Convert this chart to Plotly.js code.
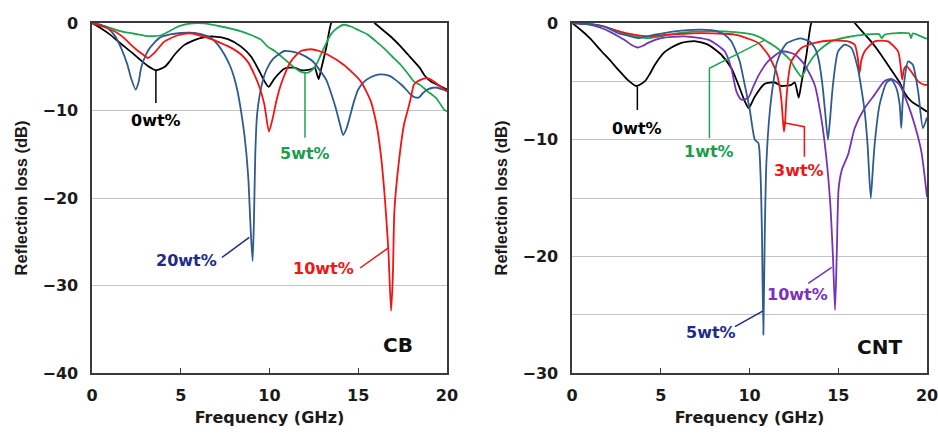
<!DOCTYPE html>
<html>
<head>
<meta charset="utf-8">
<script src="https://cdn.plot.ly/plotly-3.0.1.min.js"></script>
<style>html,body{margin:0;padding:0;background:#fff;}#chart{width:938px;height:438px;}</style>
</head>
<body>
<div id="chart"></div>
<script>
// ---- Shared 0 wt% reference sample (both panels) ----
const f_0 = [0,0.5,1.0,1.65,2.2,2.6,3.15,3.62,4.1,4.37,4.66,5.21,5.6,6.16,6.9,7.66,8.4,8.97,9.35,9.73,9.95,10.3,10.86,11.42,11.8,12.35,12.55,12.77,12.92,13.2,13.48,14,15,15.93,16.86,17.4,17.8,18.46,18.74,19.1,19.5,20];
const rl_0 = [0,-0.6,-1.3,-2.4,-3.3,-4.0,-4.9,-5.4,-5.0,-4.4,-3.6,-2.5,-2.1,-1.7,-1.55,-1.85,-2.7,-3.86,-5.2,-6.7,-7.3,-6.3,-5.2,-5.1,-5.4,-5.3,-5.1,-6.4,-5.2,-2.8,0,1.5,2.0,0,-1.6,-2.7,-3.6,-5.1,-6.0,-6.7,-7.1,-7.6];

// ---- CB panel ----
const f_cb20 = [0,0.5,0.9,1.3,1.65,2.0,2.2,2.46,2.62,2.77,3.0,3.24,3.8,4.4,5.0,5.5,5.78,6.2,6.7,7.1,7.46,7.8,8.02,8.2,8.4,8.6,8.8,8.95,9.05,9.12,9.2,9.3,9.54,9.82,10.2,10.57,10.85,11.2,11.7,12.1,12.45,12.8,13.2,13.5,13.76,14.0,14.15,14.35,14.77,15.0,15.34,15.7,16.1,16.5,16.83,17.1,17.4,17.7,17.96,18.2,18.43,18.65,18.9,19.2,19.46,19.75,20];
const rl_cb20 = [0,-0.2,-0.6,-1.5,-2.9,-4.8,-6.3,-7.6,-6.8,-5.1,-3.8,-2.9,-1.7,-1.3,-1.14,-1.1,-1.14,-1.3,-1.7,-2.5,-3.6,-5.0,-6.3,-7.8,-10.1,-13,-17.5,-24,-27.2,-23,-15,-10.5,-7.3,-5.4,-4.1,-3.5,-3.2,-3.25,-3.5,-3.9,-4.4,-5.3,-6.5,-8.2,-9.9,-11.8,-12.8,-12,-8.9,-7.6,-6.7,-6.2,-5.9,-5.9,-6.1,-6.5,-7.0,-7.6,-8.2,-8.5,-8.5,-8.0,-7.6,-7.4,-7.4,-7.6,-7.8];

const f_cb10 = [0,0.6,1.27,1.8,2.2,2.6,2.87,3.15,3.52,4.09,4.84,5.59,6.52,7.27,7.9,8.4,8.8,9.15,9.45,9.71,9.97,10.18,10.4,10.65,11.2,11.77,12.33,12.8,13.27,14.2,15.15,15.7,15.95,16.1,16.3,16.5,16.7,16.85,16.95,17.04,17.3,17.58,17.8,17.96,18.15,18.5,18.9,19.2,19.46,20];
const rl_cb10 = [0,-0.4,-0.95,-1.7,-2.5,-3.2,-3.6,-4.0,-3.4,-2.1,-1.4,-1.2,-1.7,-2.3,-2.9,-3.6,-4.5,-5.9,-7.4,-9.3,-12.4,-10.9,-8.8,-7.0,-4.4,-3.2,-3.0,-3.2,-3.6,-4.8,-6.7,-8.9,-10.8,-12.4,-15.5,-20,-26,-32.9,-29,-21.4,-15.7,-11.6,-9.9,-8.6,-7.0,-6.5,-6.3,-6.6,-7.0,-7.8];

const f_cb5 = [0,0.8,1.65,2.6,3.15,3.9,4.3,4.65,5.0,5.4,6.3,7.27,8.4,9.0,9.52,9.9,10.3,10.65,11.0,11.4,11.7,11.96,12.25,12.52,12.7,12.9,13.2,13.46,13.8,14.2,14.58,15.0,15.52,16.0,16.46,16.9,17.4,17.8,18.15,18.5,18.9,19.4,19.84,20];
const rl_cb5 = [0,-0.4,-0.95,-1.3,-1.5,-1.4,-1.0,-0.6,-0.3,-0.1,-0.05,-0.4,-0.95,-1.4,-1.9,-2.7,-3.2,-3.8,-4.4,-5.1,-5.5,-5.7,-5.6,-5.1,-4.5,-3.6,-2.3,-1.3,-0.6,-0.2,-0.4,-0.8,-1.3,-2.1,-2.9,-3.8,-4.8,-5.8,-6.7,-7.1,-7.8,-8.6,-9.9,-10.1];

// ---- CNT panel ----
const f_cnt1 = [0,1.0,1.8,2.6,3.1,3.53,4.28,5.03,5.97,7.28,8.6,9.73,10.2,10.67,11.0,11.42,11.98,12.3,12.55,12.75,12.92,13.1,13.3,13.86,14.6,15.55,16.5,17.3,17.45,17.6,18.37,19.0,19.1,19.2,19.87,20];
const rl_cnt1 = [0,-0.1,-0.3,-0.7,-1.0,-1.14,-1.29,-1.14,-0.86,-0.71,-0.71,-0.86,-1.0,-1.29,-1.6,-2.0,-2.7,-3.2,-3.86,-4.3,-4.6,-4.2,-3.57,-2.43,-1.57,-1.2,-1.0,-0.95,-1.3,-1.0,-0.86,-0.9,-1.3,-0.9,-1.29,-1.35];

const f_cnt3 = [0,1.0,1.8,2.6,3.5,4.28,5.4,7.28,9.17,9.92,10.48,11.04,11.5,11.7,11.8,11.88,11.94,12.0,12.07,12.2,12.35,12.92,13.67,14.6,15.55,15.93,16.1,16.2,16.3,16.49,17.05,17.8,18.37,18.5,18.6,18.7,18.84,19.1,19.5,19.87,20];
const rl_cnt3 = [0,-0.1,-0.3,-0.7,-1.0,-1.14,-1.0,-0.86,-1.0,-1.34,-1.7,-2.7,-4.14,-5.5,-6.7,-8.3,-9.3,-8.6,-6.7,-4.5,-3.3,-2.14,-1.7,-1.5,-1.57,-1.86,-3.0,-4.3,-3.2,-2.43,-1.57,-1.57,-2.43,-3.5,-4.86,-4.0,-3.7,-4.14,-5.0,-5.3,-5.3];

const f_cnt5 = [0,1.0,1.8,2.6,3.2,3.72,4.2,4.66,5.78,7.28,8.2,8.6,8.97,9.2,9.45,9.73,10.0,10.3,10.5,10.62,10.7,10.78,10.86,10.95,11.15,11.35,11.53,11.8,12.1,12.85,13.4,13.7,13.9,14.1,14.25,14.42,14.55,14.7,14.99,15.36,15.74,16.1,16.3,16.49,16.65,16.83,16.95,17.05,17.33,17.71,17.99,18.27,18.46,18.55,18.62,18.7,18.93,19.2,19.5,19.77,20];
const rl_cnt5 = [0,-0.1,-0.3,-0.86,-1.1,-1.29,-1.15,-1.0,-0.71,-0.57,-0.71,-1.0,-1.57,-2.3,-3.3,-5.3,-7.3,-10.0,-10.3,-13,-18,-26.7,-18,-12,-7.46,-5.0,-3.46,-2.4,-1.74,-1.31,-1.6,-2.2,-3.17,-5.2,-7.46,-10.0,-8.0,-5.3,-2.43,-1.86,-2.14,-3.86,-5.6,-7.6,-10.4,-15.0,-12.5,-10.4,-7.0,-5.14,-4.86,-5.57,-7.0,-9.0,-7.0,-5.3,-3.3,-3.57,-5.86,-9.0,-8.1];

const f_cnt10 = [0,0.8,1.65,2.2,2.6,3.0,3.34,3.72,4.0,4.28,5.03,6.35,7.66,8.2,8.6,8.97,9.26,9.54,9.92,10.2,10.48,11.04,11.8,12.55,13.1,13.67,14.04,14.33,14.55,14.7,14.82,14.92,15.02,15.2,15.55,15.93,16.49,17.05,17.6,17.99,18.46,18.93,19.3,19.68,20];
const rl_cnt10 = [0,-0.1,-0.43,-0.8,-1.14,-1.5,-1.86,-2.1,-1.95,-1.7,-1.29,-1.14,-1.43,-1.9,-2.43,-3.86,-5.86,-6.57,-6.43,-5.5,-4.57,-3.29,-2.43,-2.7,-3.57,-5.3,-8.14,-11.57,-15.5,-20,-24.6,-19.5,-14.2,-12.6,-11.3,-9.0,-7.29,-6.14,-5.0,-4.8,-5.3,-7.0,-8.7,-11.0,-14.9];

const xTicks = [0,5,10,15,20];
const yTicksCB = [0,-10,-20,-30,-40];
const yTicksCNT = [0,-10,-20,-30];

const C = {black:'#000000', blue:'#2f5b8e', red:'#f31414', green:'#1fa552', purple:'#7434b8',
           navyTxt:'#1e2a8c', greenTxt:'#1a9e4c', redTxt:'#ee1616', purpleTxt:'#7a30c0'};
const FONT_H = 'DejaVu Sans, Verdana, sans-serif';
const FONT_V = 'Liberation Sans, Arial, Helvetica, sans-serif';

function tr(x, y, color, xa, ya, name){
  return {x:x, y:y, type:'scatter', mode:'lines', name:name, xaxis:xa, yaxis:ya,
          line:{color:color, width:1.8, shape:'spline', smoothing:0.6}, hoverinfo:'skip'};
}

const data = [
  tr(f_0, rl_0, C.black, 'x', 'y', 'CB 0wt%'),
  tr(f_cb5, rl_cb5, C.green, 'x', 'y', 'CB 5wt%'),
  tr(f_cb20, rl_cb20, C.blue, 'x', 'y', 'CB 20wt%'),
  tr(f_cb10, rl_cb10, C.red, 'x', 'y', 'CB 10wt%'),
  tr(f_0, rl_0, C.black, 'x2', 'y2', 'CNT 0wt%'),
  tr(f_cnt1, rl_cnt1, C.green, 'x2', 'y2', 'CNT 1wt%'),
  tr(f_cnt3, rl_cnt3, C.red, 'x2', 'y2', 'CNT 3wt%'),
  tr(f_cnt10, rl_cnt10, C.purple, 'x2', 'y2', 'CNT 10wt%'),
  tr(f_cnt5, rl_cnt5, C.blue, 'x2', 'y2', 'CNT 5wt%')
];

const axisCommon = {
  showline:true, mirror:true, linecolor:'#3a3a3a', linewidth:1.6,
  zeroline:false, tickfont:{family:FONT_H, size:16, color:'#1a1a1a', weight:'bold'},
  ticklabeloverflow:'allow'
};
const xCommon = Object.assign({}, axisCommon, {
  range:[0,20], tickvals:xTicks, ticks:'inside', ticklen:5, tickcolor:'#3a3a3a', tickwidth:1.2,
  showgrid:false, ticklabelstandoff:7,
  title:{text:'Frequency (GHz)', font:{family:FONT_H, size:16, color:'#1a1a1a', weight:'bold'}, standoff:8}
});
const yCommon = Object.assign({}, axisCommon, {
  ticks:'', showgrid:true, gridcolor:'#c4c4c4', gridwidth:1, ticklabelstandoff:9,
  title:{text:'Reflection loss (dB)', font:{family:FONT_V, size:16.5, color:'#1a1a1a', weight:'bold'}, standoff:11}
});

function lbl(x, y, text, color, xr, yr, size){
  return {x:x, y:y, xref:xr, yref:yr, text:text, showarrow:false,
          font:{family:FONT_H, size:size||16, color:color, weight:'bold'}, xanchor:'center', yanchor:'middle'};
}
function seg(path, color, xr, yr){
  return {type:'path', path:path, xref:xr, yref:yr, line:{color:color, width:1.5}};
}

const layout = {
  width:938, height:438, paper_bgcolor:'#ffffff', plot_bgcolor:'#ffffff',
  margin:{l:92, r:11, t:23, b:65}, showlegend:false,
  xaxis: Object.assign({}, xCommon, {domain:[0, 0.4251], anchor:'y'}),
  yaxis: Object.assign({}, yCommon, {range:[-40,0], tickvals:yTicksCB, anchor:'x'}),
  xaxis2: Object.assign({}, xCommon, {domain:[0.5749, 1], anchor:'y2'}),
  yaxis2: Object.assign({}, yCommon, {range:[-30,0], tickvals:yTicksCNT, anchor:'x2',
          minor:{tickvals:[-5,-15,-25], showgrid:true, gridcolor:'#c4c4c4', gridwidth:1, ticks:''}}),
  annotations:[
    lbl(3.6, -11.1, '0wt%', C.black, 'x', 'y'),
    lbl(12.0, -14.9, '5wt%', C.greenTxt, 'x', 'y'),
    lbl(5.3, -27.1, '20wt%', C.navyTxt, 'x', 'y'),
    lbl(13.03, -28.1, '10wt%', C.redTxt, 'x', 'y'),
    lbl(17.26, -36.8, 'CB', '#111111', 'x', 'y', 20),
    lbl(3.65, -9.03, '0wt%', C.black, 'x2', 'y2'),
    lbl(7.74, -11.03, '1wt%', C.greenTxt, 'x2', 'y2'),
    lbl(12.8, -12.66, '3wt%', C.redTxt, 'x2', 'y2'),
    lbl(7.81, -26.54, '5wt%', C.navyTxt, 'x2', 'y2'),
    lbl(12.69, -23.31, '10wt%', C.purpleTxt, 'x2', 'y2'),
    lbl(17.35, -27.74, 'CNT', '#111111', 'x2', 'y2', 20)
  ],
  shapes:[
    seg('M 3.6 -5.37 L 3.6 -9.14', C.black, 'x', 'y'),
    seg('M 12.0 -5.68 L 12.0 -13.1', C.green, 'x', 'y'),
    seg('M 7.32 -26.8 L 8.86 -24.5', C.navyTxt, 'x', 'y'),
    seg('M 15.1 -28.0 L 16.7 -25.7', C.red, 'x', 'y'),
    seg('M 3.68 -5.46 L 3.68 -7.46', C.black, 'x2', 'y2'),
    seg('M 7.74 -9.88 L 7.74 -3.88 L 10.87 -1.46', C.green, 'x2', 'y2'),
    seg('M 11.94 -8.55 L 13.09 -8.89 L 13.09 -11.46', C.red, 'x2', 'y2'),
    seg('M 9.18 -26.03 L 10.74 -24.69', C.navyTxt, 'x2', 'y2'),
    seg('M 13.31 -22.31 L 14.63 -20.94', C.purple, 'x2', 'y2')
  ]
};

Plotly.newPlot('chart', data, layout, {staticPlot:true, displayModeBar:false});
</script>
</body>
</html>
